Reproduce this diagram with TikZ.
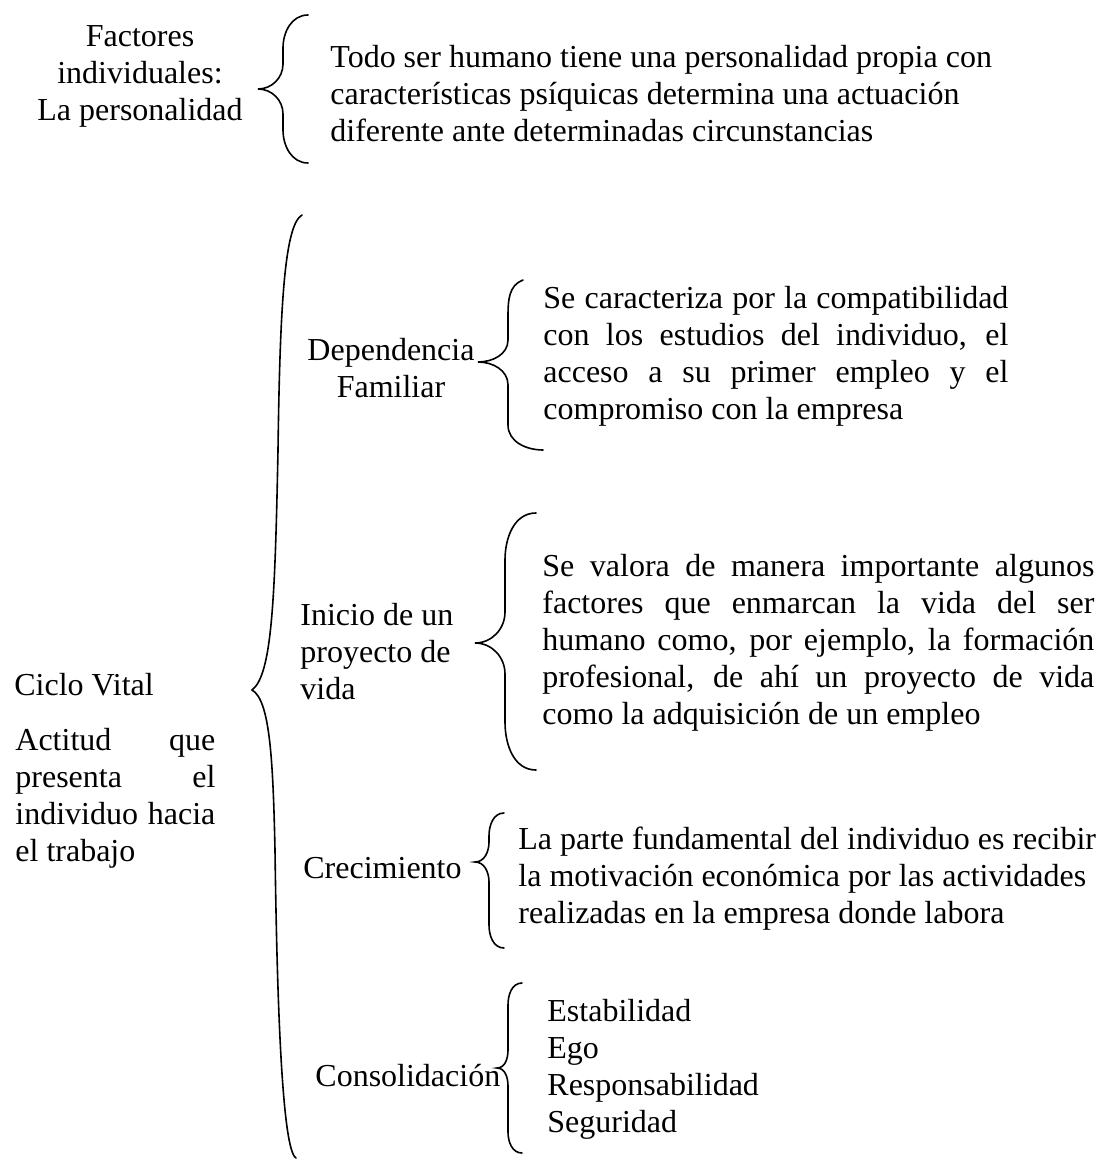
\documentclass[tikz,border=0pt]{standalone}
\usepackage{fontspec}
\setmainfont{Liberation Serif}
\hyphenpenalty=10000
\tolerance=10000
\hbadness=10000
\begin{document}
\begin{tikzpicture}[x=0.5pt,y=-0.5pt,
  txt/.style={inner sep=0pt, font=\fontsize{16pt}{18.5pt}\selectfont},
  brc/.style={line width=0.8pt, line cap=round}]
\useasboundingbox (0,0) rectangle (1101,1160);

% texts
\node[txt, align=center] (fi) at (140,76) {Factores\\individuales:\\La personalidad};
\node[txt, anchor=west, align=left] (t1) at (330,94) {Todo ser humano tiene una personalidad propia con\\características psíquicas determina una actuación\\diferente ante determinadas circunstancias};

\node[txt, anchor=west] (cv) at (14,685) {Ciclo Vital};
\node[txt, anchor=west, text width=100pt, align=justify] (act) at (15,798) {Actitud que\linebreak presenta el\linebreak individuo hacia\linebreak el trabajo};

\node[txt, align=center] (dep) at (391,368) {Dependencia\\Familiar};
\node[txt, anchor=west, text width=232.5pt, align=justify] (t2) at (543,356) {Se caracteriza por la compatibilidad\linebreak con los estudios del individuo, el\linebreak acceso a su primer empleo y el\linebreak compromiso con la empresa};

\node[txt, anchor=west, align=left] (ini) at (300,652) {Inicio de un\\proyecto de\\vida};
\node[txt, anchor=west, text width=276pt, align=justify] (t3) at (542,643) {Se valora de manera importante algunos\linebreak factores que enmarcan la vida del ser\linebreak humano como, por ejemplo, la formación\linebreak profesional, de ahí un proyecto de vida\linebreak como la adquisición de un empleo};

\node[txt, anchor=west] (cre) at (303,868) {Crecimiento};
\node[txt, anchor=west, align=left] (t4) at (518,879) {La parte fundamental del individuo es recibir\\la motivación económica por las actividades\\realizadas en la empresa donde labora};

\node[txt, anchor=west] (con) at (315,1076) {Consolidación};
\node[txt, anchor=west, align=left] (t5) at (547,1069) {Estabilidad\\Ego\\Responsabilidad\\Seguridad};

% braces
\draw[brc] (308,15) to[out=180,in=90] (283,48) -- (283,64) to[out=-90,in=0] (258,89) to[out=0,in=90] (283,114) -- (283,130) to[out=-90,in=180] (308,163);

\draw[brc] (302,215) .. controls (285,225) and (280,300) .. (278,450)
  .. controls (275,600) and (272,675) .. (252,690)
  .. controls (270,700) and (273,760) .. (275,850)
  .. controls (277,1000) and (282,1150) .. (296,1158);

\draw[brc] (523,280) to[out=200,in=90] (508,315) -- (508,340) to[out=-90,in=0] (478,362) to[out=0,in=90] (508,385) -- (508,425) to[out=-90,in=180] (543,450);

\draw[brc] (536,513) to[out=180,in=90] (505,560) -- (505,612) to[out=-90,in=0] (475,643) to[out=0,in=90] (505,674) -- (505,722) to[out=-90,in=180] (536,770);

\draw[brc] (504,813) to[out=180,in=90] (489,836) -- (489,842) to[out=-90,in=0] (475,862) to[out=0,in=90] (489,882) -- (489,925) to[out=-90,in=180] (504,948);

\draw[brc] (522,983) to[out=180,in=90] (508,1005) -- (508,1050) to[out=-90,in=0] (497,1068) to[out=0,in=90] (508,1086) -- (508,1132) to[out=-90,in=180] (522,1153);
\end{tikzpicture}
\end{document}
